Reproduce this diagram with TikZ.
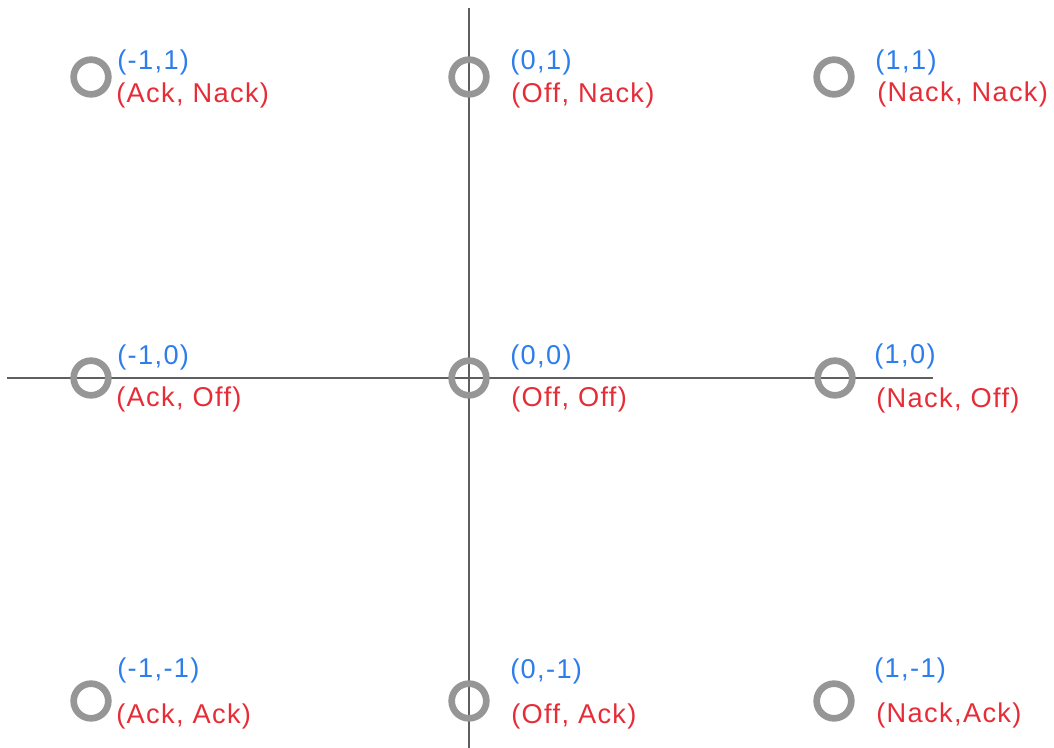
\documentclass[tikz,border=0pt]{standalone}
\usepackage{fontspec}
\setmainfont{Liberation Sans}[LetterSpace=5]
\definecolor{lblblue}{RGB}{45,125,235}
\definecolor{lblred}{RGB}{230,45,55}
\definecolor{ringgray}{RGB}{150,150,150}
\definecolor{axisgray}{RGB}{95,95,95}
\begin{document}
\begin{tikzpicture}[x=0.75pt,y=-0.75pt,
  ring/.style={circle,draw=ringgray,line width=5pt,minimum size=26pt,inner sep=0pt},
  axisline/.style={draw=axisgray,line width=1.9pt},
  coordlbl/.style={anchor=west,inner sep=0pt,text=lblblue,font=\fontsize{20.4pt}{23pt}\selectfont},
  statelbl/.style={anchor=west,inner sep=0pt,text=lblred,font=\fontsize{20.4pt}{23pt}\selectfont}]
\useasboundingbox (0,0) rectangle (1054,748);
% axes
\coordinate (xl) at (7,378);
\coordinate (xr) at (933,378);
\coordinate (yt) at (469,8);
\coordinate (yb) at (469,748);
\draw[axisline] (xl) -- (xr);
\draw[axisline] (yt) -- (yb);
% circles
\node[ring] (c11) at (91,77) {};
\node[ring] (c01) at (469,77) {};
\node[ring] (c21) at (834,77) {};
\node[ring] (c10) at (91,378) {};
\node[ring] (c00) at (469,378) {};
\node[ring] (c20) at (835,378) {};
\node[ring] (c1m) at (91,701) {};
\node[ring] (c0m) at (469,701) {};
\node[ring] (c2m) at (834,701) {};
% labels
\node[coordlbl] (b11) at (117,62) {(-1,1)};
\node[statelbl] (r11) at (116,95) {(Ack, Nack)};
\node[coordlbl] (b01) at (510,62) {(0,1)};
\node[statelbl] (r01) at (511,95) {(Off, Nack)};
\node[coordlbl] (b21) at (875,62) {(1,1)};
\node[statelbl] (r21) at (877,94) {(Nack, Nack)};
\node[coordlbl] (b10) at (117,357) {(-1,0)};
\node[statelbl] (r10) at (116,399) {(Ack, Off)};
\node[coordlbl] (b00) at (510,357) {(0,0)};
\node[statelbl] (r00) at (511,399) {(Off, Off)};
\node[coordlbl] (b20) at (874,356) {(1,0)};
\node[statelbl] (r20) at (876,400) {(Nack, Off)};
\node[coordlbl] (b1m) at (117,670) {(-1,-1)};
\node[statelbl] (r1m) at (116,716) {(Ack, Ack)};
\node[coordlbl] (b0m) at (510,671) {(0,-1)};
\node[statelbl] (r0m) at (511,716) {(Off, Ack)};
\node[coordlbl] (b2m) at (874,670) {(1,-1)};
\node[statelbl] (r2m) at (876,715) {(Nack,Ack)};
\end{tikzpicture}
\end{document}
